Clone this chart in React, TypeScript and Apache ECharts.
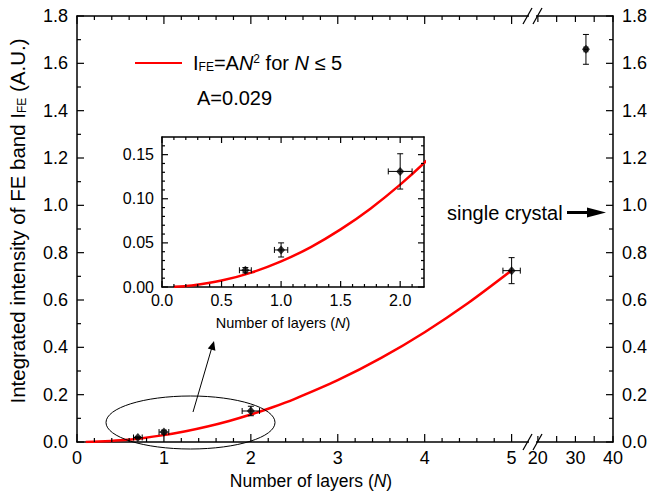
import React, { useEffect, useRef } from "react";
import * as echarts from "echarts";

const FONT = "'Liberation Sans', Arial, Helvetica, sans-serif";

// Measured points (N <= 5)
const layers = [0.7, 1, 2, 5];
const intensity = [0.019, 0.042, 0.131, 0.724];
const layersErr = [0.05, 0.056, 0.1, 0.1];
const intensityErr = [0.003, 0.008, 0.02, 0.055];

// Single crystal point
const crystalLayers = [32.8];
const crystalIntensity = [1.659];
const crystalLayersErr = [0.5];
const crystalIntensityErr = [0.063];

// Fit curve I_FE = A N^2 (A = 0.029)
const fitLayers = [0.1, 0.25, 0.5, 0.75, 1, 1.25, 1.5, 1.75, 2, 2.25, 2.5, 3, 3.5, 4, 4.5, 5];
const fitIntensity = [0.0003, 0.0018, 0.0073, 0.0163, 0.029, 0.0453, 0.0653, 0.0888, 0.116, 0.1468, 0.1813, 0.261, 0.3553, 0.464, 0.5873, 0.725];

// Tick positions / labels
const mainXTicks = [0, 1, 2, 3, 4, 5];
const mainYTicks = [0, 0.2, 0.4, 0.6, 0.8, 1.0, 1.2, 1.4, 1.6, 1.8];
const brokenXTicks = [20, 25, 30, 35, 40];
const brokenXLabels = [20, 30, 40];
const insetXTicks = [0, 0.5, 1, 1.5, 2];
const insetYTicks = [0, 0.05, 0.1, 0.15];

const BLACK = "#000";

function subdivide(major: number[], parts: number, upTo: number) {
  const out: number[] = [];
  const step = major[1] - major[0];
  const last = major[major.length - 1];
  for (let v = major[0]; v < upTo - 1e-9; v += step / parts) {
    const r = Math.round(v * 10000) / 10000;
    if (!major.some((m) => Math.abs(m - r) < 1e-9) && r < upTo - 1e-9 && r > major[0]) out.push(r);
    if (v > last + step) break;
  }
  return out;
}

function errRender(params: any, api: any) {
  const x = api.value(0);
  const y = api.value(1);
  const ex = api.value(2);
  const ey = api.value(3);
  const top = api.coord([x, y + ey]);
  const bot = api.coord([x, y - ey]);
  const lft = api.coord([x - ex, y]);
  const rgt = api.coord([x + ex, y]);
  const cap = 3;
  const ln = (x1: number, y1: number, x2: number, y2: number) => ({
    type: "line",
    shape: { x1, y1, x2, y2 },
    style: { stroke: BLACK, lineWidth: 1, fill: null },
  });
  return {
    type: "group",
    children: [
      ln(top[0], top[1], bot[0], bot[1]),
      ln(top[0] - cap, top[1], top[0] + cap, top[1]),
      ln(bot[0] - cap, bot[1], bot[0] + cap, bot[1]),
      ln(lft[0], lft[1], rgt[0], rgt[1]),
      ln(lft[0], lft[1] - cap, lft[0], lft[1] + cap),
      ln(rgt[0], rgt[1] - cap, rgt[0], rgt[1] + cap),
    ],
  };
}

// tick mark: anchored at the axis value through the scale, extends inward by (dx, dy) px
function tickRender(params: any, api: any) {
  const p = api.coord([api.value(0), api.value(1)]);
  return {
    type: "line",
    shape: { x1: p[0], y1: p[1], x2: p[0] + api.value(2), y2: p[1] + api.value(3) },
    style: { stroke: BLACK, lineWidth: 1.2 },
  };
}

function axis(gridIndex: number, position: string, min: number, max: number, o: any = {}) {
  const ax: any = {
    type: "value",
    gridIndex,
    position,
    min,
    max,
    axisLine: { show: true, onZero: false, lineStyle: { color: BLACK, width: 1.5 } },
    axisTick: { show: false },
    minorTick: { show: false },
    axisLabel: o.label
      ? {
          show: true,
          margin: o.margin ?? 8,
          color: BLACK,
          fontSize: o.fs ?? 18,
          fontFamily: FONT,
          formatter: o.fmt,
        }
      : { show: false },
    splitLine: { show: false },
  };
  if (o.interval !== undefined) ax.interval = o.interval;
  if (o.label && o.labels) ax.axisLabel.customValues = o.labels;
  return ax;
}

export default function App() {
  const ref = useRef<HTMLDivElement>(null);

  useEffect(() => {
    if (!ref.current) return;
    const chart = echarts.init(ref.current, null, { renderer: "svg" });

    const fitData = fitLayers.map((x, i) => [x, fitIntensity[i]]);
    const mainPts = layers.map((x, i) => [x, intensity[i]]);
    const mainErr = layers.map((x, i) => [x, intensity[i], layersErr[i], intensityErr[i]]);
    const insetIdx = layers.map((x, i) => i).filter((i) => layers[i] <= 2.2);
    const insetPts = insetIdx.map((i) => [layers[i], intensity[i]]);
    const insetErr = insetIdx.map((i) => [layers[i], intensity[i], layersErr[i], intensityErr[i]]);
    const crysPts = crystalLayers.map((x, i) => [x, crystalIntensity[i]]);
    const crysErr = crystalLayers.map((x, i) => [x, crystalIntensity[i], crystalLayersErr[i], crystalIntensityErr[i]]);

    const f1 = (v: any) => (typeof v === "number" ? v.toFixed(1) : String(v));
    const f2 = (v: any) => (typeof v === "number" ? v.toFixed(2) : String(v));
    const f0 = (v: any) => (typeof v === "number" ? String(Math.round(v)) : String(v));

    // tick sets
    const mainXMinor = subdivide(mainXTicks, 5, 5);
    const mainYMinor = subdivide(mainYTicks, 2, 1.8);
    const insetXMinor = subdivide(insetXTicks, 5, 2.2);
    const insetYMinor = subdivide(insetYTicks, 5, 0.17);

    const mainTicks = [
      ...mainXTicks.map((v) => [v, 0, 0, -8]),
      ...mainXMinor.map((v) => [v, 0, 0, -4]),
      ...mainXTicks.map((v) => [v, 1.8, 0, 8]),
      ...mainXMinor.map((v) => [v, 1.8, 0, 4]),
      ...mainYTicks.map((v) => [0, v, 7, 0]),
      ...mainYMinor.map((v) => [0, v, 4, 0]),
    ];
    const rightTicks = [
      ...brokenXTicks.map((v) => [v, 0, 0, -6]),
      ...brokenXTicks.map((v) => [v, 1.8, 0, 6]),
      ...mainYTicks.map((v) => [40, v, -7, 0]),
      ...mainYMinor.map((v) => [40, v, -4, 0]),
    ];
    const insetTicks = [
      ...insetXTicks.map((v) => [v, 0, 0, -6]),
      ...insetXMinor.map((v) => [v, 0, 0, -3]),
      ...insetXTicks.map((v) => [v, 0.17, 0, 6]),
      ...insetXMinor.map((v) => [v, 0.17, 0, 3]),
      ...insetYTicks.map((v) => [0, v, 6, 0]),
      ...insetYMinor.map((v) => [0, v, 3, 0]),
      ...insetYTicks.map((v) => [2.2, v, -6, 0]),
      ...insetYMinor.map((v) => [2.2, v, -3, 0]),
    ];

    const tickSeries = (xi: number, yi: number, data: number[][]) => ({
      type: "custom",
      xAxisIndex: xi,
      yAxisIndex: yi,
      data,
      renderItem: tickRender,
      encode: { x: 0, y: 1 },
      clip: false,
      silent: true,
      z: 10,
    });

    const slash = (cx: number, cy: number) => ({
      type: "line",
      shape: { x1: cx - 4.5, y1: cy + 8, x2: cx + 4.5, y2: cy - 8 },
      style: { stroke: BLACK, lineWidth: 1.3 },
      z: 51,
    });

    const option: any = {
      animation: false,
      backgroundColor: "#fff",
      grid: [
        { left: 77, top: 16, width: 452, height: 426 },
        { left: 536, top: 16, width: 78, height: 426 },
        { left: 162, top: 137, width: 262, height: 150 },
      ],
      xAxis: [
        axis(0, "bottom", 0, 5.2, { interval: 1, label: true, labels: mainXTicks, fmt: f0, margin: 7 }),
        axis(0, "top", 0, 5.2, { interval: 1 }),
        axis(1, "bottom", 19.5, 40, { label: true, labels: brokenXLabels, fmt: f0, margin: 7 }),
        axis(1, "top", 19.5, 40, {}),
        axis(2, "bottom", 0, 2.2, { interval: 0.5, label: true, labels: insetXTicks, fmt: f1, fs: 16, margin: 5 }),
        axis(2, "top", 0, 2.2, { interval: 0.5 }),
      ],
      yAxis: [
        axis(0, "left", 0, 1.8, { interval: 0.2, label: true, fmt: f1, margin: 9 }),
        axis(1, "right", 0, 1.8, { interval: 0.2, label: true, fmt: f1, margin: 9 }),
        axis(2, "left", 0, 0.17, { interval: 0.05, label: true, labels: insetYTicks, fmt: f2, fs: 16, margin: 8 }),
        axis(2, "right", 0, 0.17, { interval: 0.05 }),
      ],
      series: [
        tickSeries(0, 0, mainTicks),
        tickSeries(2, 1, rightTicks),
        tickSeries(4, 2, insetTicks),
        {
          type: "line", xAxisIndex: 0, yAxisIndex: 0, data: fitData, smooth: 0.3, showSymbol: false,
          lineStyle: { color: "#ff0000", width: 2.5 }, z: 3, silent: true,
        },
        { type: "custom", xAxisIndex: 0, yAxisIndex: 0, data: mainErr, renderItem: errRender, encode: { x: 0, y: 1 }, z: 4 },
        {
          type: "scatter", xAxisIndex: 0, yAxisIndex: 0, data: mainPts, symbol: "diamond", symbolSize: [8, 9],
          itemStyle: { color: BLACK }, z: 5,
        },
        { type: "custom", xAxisIndex: 2, yAxisIndex: 1, data: crysErr, renderItem: errRender, encode: { x: 0, y: 1 }, z: 4 },
        {
          type: "scatter", xAxisIndex: 2, yAxisIndex: 1, data: crysPts, symbol: "diamond", symbolSize: [8, 9],
          itemStyle: { color: BLACK }, z: 5,
        },
        {
          type: "line", xAxisIndex: 4, yAxisIndex: 2, data: fitData, smooth: 0.3, showSymbol: false,
          lineStyle: { color: "#ff0000", width: 2.5 }, z: 3, silent: true,
        },
        { type: "custom", xAxisIndex: 4, yAxisIndex: 2, data: insetErr, renderItem: errRender, encode: { x: 0, y: 1 }, z: 4 },
        {
          type: "scatter", xAxisIndex: 4, yAxisIndex: 2, data: insetPts, symbol: "diamond", symbolSize: [8, 9],
          itemStyle: { color: BLACK }, z: 5,
        },
      ],
      graphic: [
        // axis break marks
        { type: "rect", shape: { x: 529, y: 436, width: 7, height: 12 }, style: { fill: "#fff" }, z: 50 },
        { type: "rect", shape: { x: 529, y: 10, width: 7, height: 12 }, style: { fill: "#fff" }, z: 50 },
        slash(527.5, 442),
        slash(537.5, 442),
        slash(527.5, 16),
        slash(537.5, 16),
        // y-axis title
        {
          type: "text",
          x: 17,
          y: 221,
          rotation: Math.PI / 2,
          style: {
            text: "Integrated intensity of FE band I{sub|FE} (A.U.)",
            fill: BLACK,
            font: `20.5px ${FONT}`,
            align: "center",
            verticalAlign: "middle",
            rich: {
              sub: { fontSize: 12, fontFamily: FONT, fill: BLACK, verticalAlign: "bottom", lineHeight: 12 },
            },
          },
        },
        // x-axis title
        {
          type: "text",
          x: 311,
          y: 481,
          style: {
            text: "Number of layers ({i|N})",
            fill: BLACK,
            font: `17.5px ${FONT}`,
            align: "center",
            verticalAlign: "middle",
            rich: { i: { fontStyle: "italic", fontSize: 17.5, fontFamily: FONT, fill: BLACK } },
          },
        },
        // inset x-axis title
        {
          type: "text",
          x: 283,
          y: 323,
          style: {
            text: "Number of layers ({i|N})",
            fill: BLACK,
            font: `14.5px ${FONT}`,
            align: "center",
            verticalAlign: "middle",
            rich: { i: { fontStyle: "italic", fontSize: 14.5, fontFamily: FONT, fill: BLACK } },
          },
        },
        // legend
        {
          type: "line",
          shape: { x1: 135, y1: 63, x2: 182, y2: 63 },
          style: { stroke: "#ff0000", lineWidth: 2 },
        },
        {
          type: "text",
          x: 193,
          y: 63,
          style: {
            text: "I{sub|FE}=A{i|N}{sup|2} for {i|N} ≤ 5",
            fill: BLACK,
            font: `20px ${FONT}`,
            align: "left",
            verticalAlign: "middle",
            rich: {
              sub: { fontSize: 12, fontFamily: FONT, fill: BLACK, verticalAlign: "bottom", lineHeight: 12 },
              sup: { fontSize: 12, fontFamily: FONT, fill: BLACK, verticalAlign: "top", lineHeight: 12 },
              i: { fontStyle: "italic", fontSize: 20, fontFamily: FONT, fill: BLACK },
            },
          },
        },
        {
          type: "text",
          x: 197,
          y: 98,
          style: { text: "A=0.029", fill: BLACK, font: `20px ${FONT}`, align: "left", verticalAlign: "middle" },
        },
        // ellipse + arrow to inset
        {
          type: "ellipse",
          shape: { cx: 190.5, cy: 422.5, rx: 84.5, ry: 26.5 },
          style: { fill: null, stroke: BLACK, lineWidth: 1 },
          z: 20,
        },
        {
          type: "line",
          shape: { x1: 193, y1: 412, x2: 212, y2: 347 },
          style: { stroke: BLACK, lineWidth: 1 },
          z: 20,
        },
        {
          type: "polygon",
          shape: { points: [[214, 341], [215.4, 350.8], [207.8, 348.6]] },
          style: { fill: BLACK },
          z: 20,
        },
        // single crystal annotation
        {
          type: "text",
          x: 447,
          y: 213,
          style: { text: "single crystal", fill: BLACK, font: `20px ${FONT}`, align: "left", verticalAlign: "middle" },
        },
        {
          type: "line",
          shape: { x1: 567, y1: 212.5, x2: 592, y2: 212.5 },
          style: { stroke: BLACK, lineWidth: 3 },
        },
        {
          type: "polygon",
          shape: { points: [[587, 207.5], [606, 212.5], [587, 217.5]] },
          style: { fill: BLACK },
        },
      ],
    };

    chart.setOption(option);
    return () => chart.dispose();
  }, []);

  return (
    <div
      ref={ref}
      style={{ position: "fixed", left: 0, top: 0, width: 650, height: 496, background: "#fff" }}
    />
  );
}
